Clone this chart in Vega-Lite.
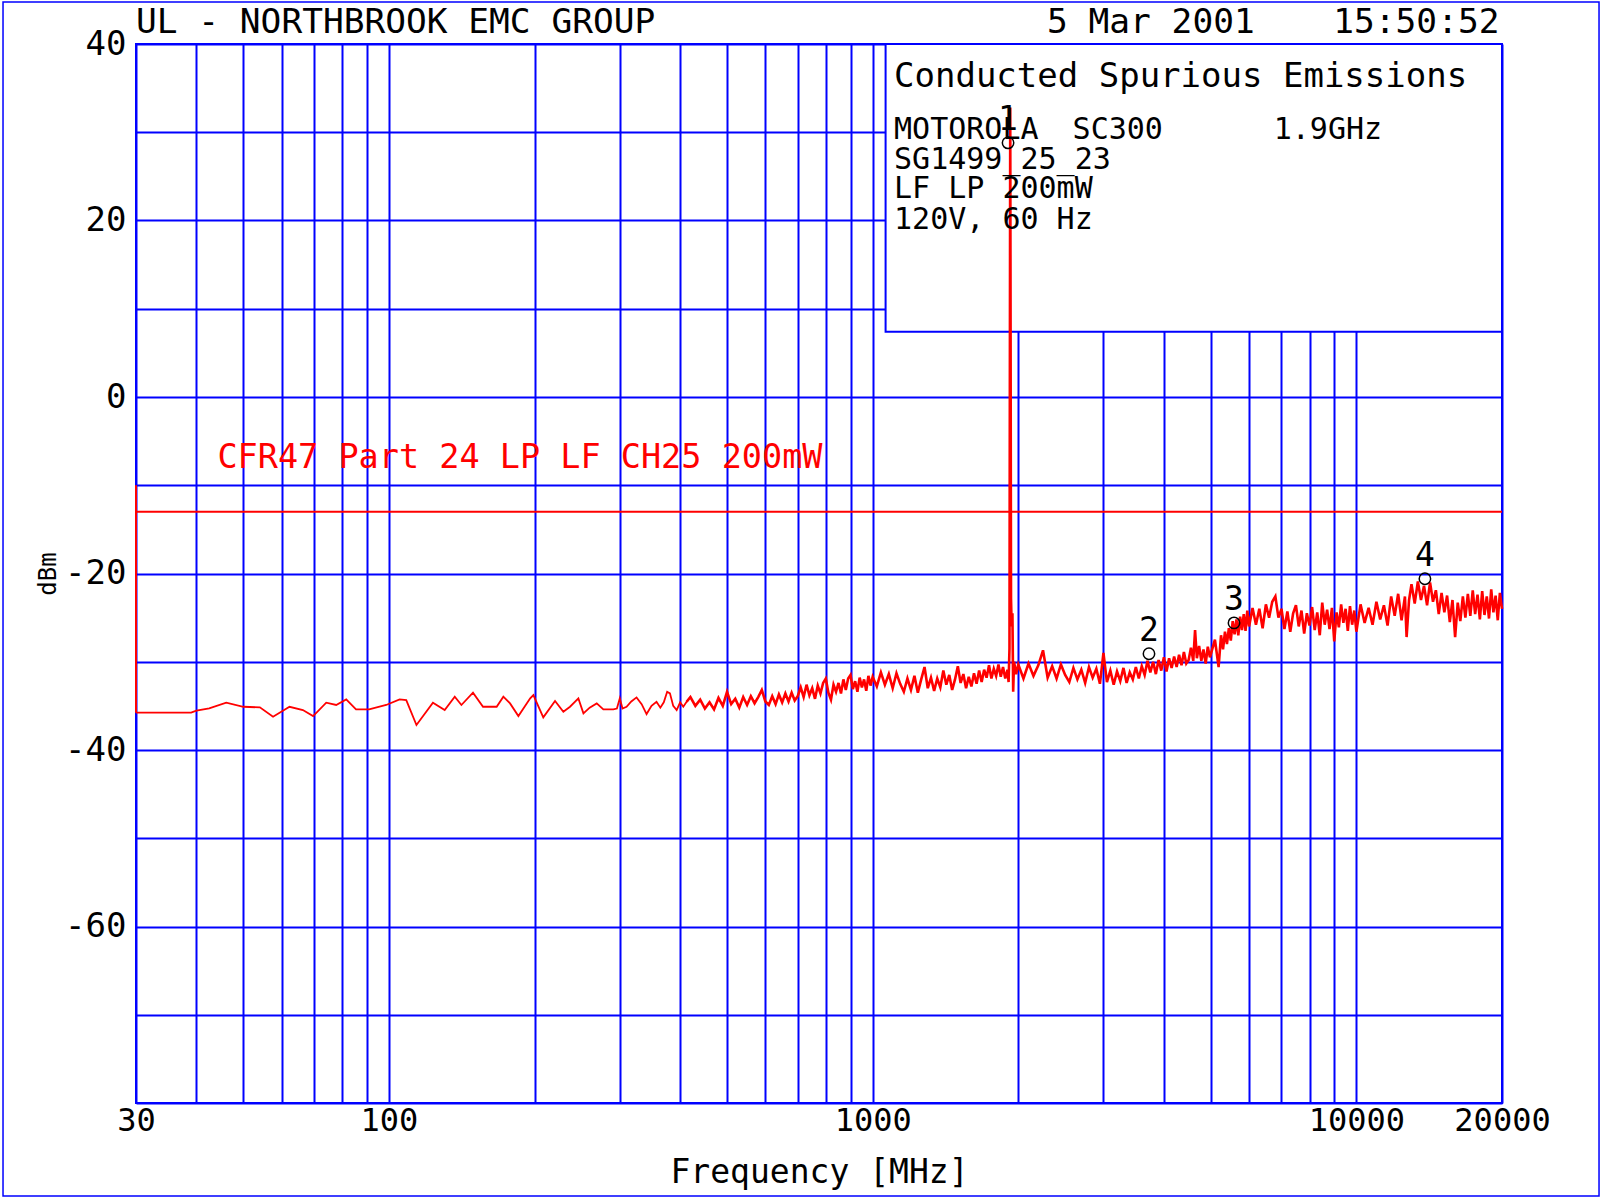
{
"$schema": "https://vega.github.io/schema/vega-lite/v6.json",
"width": 1366, "height": 1059,
"autosize": {"type": "none"},
"padding": {"left": 136, "top": 44, "right": 100, "bottom": 95},
"background": "white",
"config": {"view": {"stroke": "#0000ff", "strokeWidth": 2}, "font": "DejaVu Sans Mono"},
"data": {"values": [{}]},
"datasets": {
"trace": [
{"f":30,"d":-35.77},{"f":39,"d":-35.77},{"f":40,"d":-35.55},{"f":42.5,"d":-35.28},{"f":46.1,"d":-34.64},{"f":50,"d":-35.1},{"f":54.1,"d":-35.17},{"f":57.6,"d":-36.23},{"f":62.3,"d":-35.1},{"f":66.4,"d":-35.47},{"f":69.7,"d":-36.15},{"f":74.2,"d":-34.64},{"f":77.8,"d":-34.9},{"f":81.6,"d":-34.26},{"f":85.5,"d":-35.4},{"f":91,"d":-35.4},{"f":98.7,"d":-34.9},{"f":105.2,"d":-34.26},{"f":108.6,"d":-34.34},{"f":114,"d":-37.17},{"f":123.3,"d":-34.64},{"f":130.4,"d":-35.47},{"f":136.8,"d":-33.96},{"f":141.2,"d":-34.9},{"f":149.2,"d":-33.51},{"f":156.5,"d":-35.1},{"f":167,"d":-35.1},{"f":172.4,"d":-33.96},{"f":178,"d":-34.72},{"f":185.2,"d":-36.15},{"f":195.9,"d":-34.15},
{"f":198.9,"d":-33.77},{"f":208.5,"d":-36.3},{"f":220.5,"d":-34.45},{"f":229.4,"d":-35.66},{"f":236.8,"d":-35.1},{"f":246.4,"d":-34.15},{"f":252.4,"d":-35.85},{"f":260,"d":-35.2},{"f":268.9,"d":-34.72},{"f":277.5,"d":-35.4},{"f":291,"d":-35.4},{"f":296,"d":-35.3},{"f":300.1,"d":-34.15},{"f":304,"d":-35.3},{"f":309.9,"d":-35.1},{"f":317,"d":-34.5},{"f":325,"d":-34.04},{"f":333,"d":-34.8},{"f":340.9,"d":-35.93},{"f":349,"d":-35.0},{"f":357.4,"d":-34.53},{"f":364,"d":-35.2},{"f":370,"d":-34.6},{"f":376,"d":-33.4},{"f":381,"d":-33.58},{"f":387,"d":-35.0},{"f":393.4,"d":-35.47},{"f":400,"d":-34.6},{"f":406,"d":-35.1},{"f":412.5,"d":-34.53},
{"f":420,"d":-34.0},{"f":430,"d":-35.0},{"f":440,"d":-34.3},{"f":450,"d":-35.3},{"f":460,"d":-34.6},{"f":470,"d":-35.4},{"f":480,"d":-34.1},{"f":490,"d":-35.0},{"f":500,"d":-33.4},{"f":510,"d":-34.8},{"f":520,"d":-34.2},{"f":530,"d":-35.2},{"f":540,"d":-34.0},{"f":550,"d":-34.9},{"f":560,"d":-33.9},{"f":570,"d":-34.7},{"f":580,"d":-34.0},{"f":590,"d":-33.2},{"f":600,"d":-34.5},{"f":610,"d":-34.9},{"f":620,"d":-33.9},{"f":630,"d":-34.8},{"f":640,"d":-33.7},{"f":650,"d":-34.6},{"f":660,"d":-33.6},{"f":670,"d":-34.5},{"f":680,"d":-33.5},{"f":690,"d":-34.4},{"f":700,"d":-33.9},
{"f":710,"d":-32.9},{"f":720,"d":-34.0},{"f":730,"d":-32.6},{"f":740,"d":-33.8},{"f":750,"d":-33.0},{"f":760,"d":-34.2},{"f":770,"d":-32.7},{"f":780,"d":-33.6},{"f":790,"d":-32.4},{"f":800,"d":-31.9},{"f":810,"d":-33.5},{"f":820,"d":-34.3},{"f":830,"d":-32.6},{"f":840,"d":-33.4},{"f":850,"d":-32.4},{"f":860,"d":-33.6},{"f":870,"d":-32.0},{"f":880,"d":-33.2},{"f":890,"d":-31.9},{"f":900,"d":-31.5},{"f":910,"d":-33.1},{"f":920,"d":-32.2},{"f":930,"d":-33.4},{"f":940,"d":-31.8},{"f":950,"d":-32.9},{"f":960,"d":-32.0},{"f":970,"d":-33.3},{"f":980,"d":-31.6},{"f":990,"d":-32.7},{"f":1000,"d":-31.7},
{"f":1020,"d":-32.8},{"f":1040,"d":-31.2},{"f":1060,"d":-32.6},{"f":1080,"d":-31.4},{"f":1100,"d":-33.0},{"f":1120,"d":-31.3},{"f":1140,"d":-32.5},{"f":1160,"d":-33.4},{"f":1180,"d":-31.9},{"f":1200,"d":-33.2},{"f":1220,"d":-31.6},{"f":1240,"d":-33.5},{"f":1260,"d":-32.0},{"f":1280,"d":-30.6},{"f":1300,"d":-33.0},{"f":1320,"d":-31.8},{"f":1340,"d":-33.3},{"f":1360,"d":-31.9},{"f":1380,"d":-32.9},{"f":1400,"d":-31.0},{"f":1420,"d":-32.6},{"f":1440,"d":-31.5},{"f":1460,"d":-33.2},{"f":1480,"d":-32.0},{"f":1500,"d":-30.5},{"f":1520,"d":-32.4},{"f":1540,"d":-31.4},{"f":1560,"d":-33.0},{"f":1580,"d":-31.7},{"f":1600,"d":-32.8},{"f":1620,"d":-31.3},{"f":1640,"d":-32.5},{"f":1660,"d":-31.0},{"f":1680,"d":-32.3},{"f":1700,"d":-30.9},{"f":1720,"d":-31.8},{"f":1740,"d":-30.4},{"f":1760,"d":-31.9},{"f":1780,"d":-30.8},{"f":1800,"d":-31.6},{"f":1820,"d":-30.3},{"f":1840,"d":-31.7},{"f":1860,"d":-30.6},{"f":1880,"d":-31.9},{"f":1900,"d":-30.9},{"f":1910,"d":-32.3},{"f":1918,"d":-28.5},{"f":1925,"d":32.8},{"f":1932,"d":-22.8},{"f":1938,"d":-26.0},{"f":1945,"d":-24.5},{"f":1952,"d":-33.4},{"f":1960,"d":-30.0},{"f":1980,"d":-31.4},{"f":2000,"d":-30.3},
{"f":2050,"d":-31.9},{"f":2100,"d":-30.2},{"f":2150,"d":-31.6},{"f":2200,"d":-30.4},{"f":2250,"d":-28.7},{"f":2300,"d":-31.8},{"f":2350,"d":-30.5},{"f":2400,"d":-31.9},{"f":2450,"d":-30.3},{"f":2500,"d":-31.5},{"f":2550,"d":-32.3},{"f":2600,"d":-30.7},{"f":2650,"d":-32.0},{"f":2700,"d":-30.9},{"f":2750,"d":-32.4},{"f":2800,"d":-30.6},{"f":2850,"d":-31.8},{"f":2900,"d":-30.8},{"f":2950,"d":-32.5},{"f":3000,"d":-29.0},{"f":3050,"d":-32.3},{"f":3100,"d":-31.0},{"f":3150,"d":-32.6},{"f":3200,"d":-31.1},{"f":3250,"d":-32.2},{"f":3300,"d":-30.7},{"f":3350,"d":-32.4},{"f":3400,"d":-31.2},{"f":3450,"d":-32.0},{"f":3500,"d":-30.6},{"f":3550,"d":-31.9},{"f":3600,"d":-30.5},{"f":3650,"d":-31.5},{"f":3700,"d":-29.9},{"f":3750,"d":-31.2},{"f":3800,"d":-30.0},{"f":3850,"d":-31.4},{"f":3900,"d":-29.8},{"f":3950,"d":-31.0},{"f":4000,"d":-29.5},{"f":4050,"d":-31.1},{"f":4100,"d":-29.6},{"f":4150,"d":-30.7},{"f":4200,"d":-29.4},{"f":4250,"d":-30.6},{"f":4300,"d":-29.2},{"f":4350,"d":-30.4},{"f":4400,"d":-28.9},{"f":4450,"d":-30.2},{"f":4500,"d":-29.8},{"f":4550,"d":-28.4},{"f":4600,"d":-29.9},{"f":4640,"d":-26.4},{"f":4680,"d":-29.6},{"f":4730,"d":-28.2},{"f":4780,"d":-29.9},{"f":4830,"d":-28.6},{"f":4880,"d":-30.2},{"f":4930,"d":-28.3},{"f":4980,"d":-29.5},
{"f":5100,"d":-27.5},{"f":5190,"d":-30.6},{"f":5250,"d":-27.0},{"f":5300,"d":-28.6},{"f":5350,"d":-26.6},{"f":5400,"d":-28.0},{"f":5450,"d":-26.2},{"f":5500,"d":-27.6},{"f":5550,"d":-25.4},{"f":5600,"d":-26.9},{"f":5650,"d":-25.2},{"f":5700,"d":-27.0},{"f":5750,"d":-24.9},{"f":5800,"d":-26.4},{"f":5850,"d":-24.6},{"f":5900,"d":-26.5},{"f":5950,"d":-24.2},{"f":6000,"d":-26.0},{"f":6100,"d":-23.9},{"f":6200,"d":-25.8},{"f":6300,"d":-24.0},{"f":6400,"d":-26.2},{"f":6500,"d":-23.5},{"f":6600,"d":-25.0},{"f":6700,"d":-23.2},{"f":6800,"d":-22.6},{"f":6900,"d":-25.0},{"f":7000,"d":-24.0},{"f":7100,"d":-26.3},{"f":7200,"d":-24.3},{"f":7300,"d":-26.6},{"f":7400,"d":-24.5},{"f":7500,"d":-23.6},{"f":7600,"d":-26.0},{"f":7700,"d":-24.2},{"f":7800,"d":-26.8},{"f":7900,"d":-24.5},{"f":8000,"d":-25.9},{"f":8100,"d":-23.8},{"f":8200,"d":-26.4},{"f":8300,"d":-24.4},{"f":8400,"d":-27.0},{"f":8500,"d":-23.3},{"f":8600,"d":-25.8},{"f":8700,"d":-24.1},{"f":8800,"d":-26.3},{"f":8900,"d":-23.9},{"f":9000,"d":-27.7},{"f":9100,"d":-24.4},{"f":9200,"d":-26.1},{"f":9300,"d":-23.5},{"f":9400,"d":-25.6},{"f":9500,"d":-24.0},{"f":9600,"d":-26.5},{"f":9700,"d":-23.7},{"f":9800,"d":-25.8},{"f":9900,"d":-24.2},{"f":10000,"d":-26.6},
{"f":10200,"d":-23.5},{"f":10400,"d":-25.6},{"f":10600,"d":-23.9},{"f":10800,"d":-25.8},{"f":11000,"d":-23.2},{"f":11200,"d":-25.2},{"f":11400,"d":-23.6},{"f":11600,"d":-25.9},{"f":11800,"d":-22.6},{"f":12000,"d":-24.8},{"f":12200,"d":-22.3},{"f":12400,"d":-25.3},{"f":12600,"d":-22.6},{"f":12700,"d":-27.2},{"f":12850,"d":-23.0},{"f":13000,"d":-21.2},{"f":13200,"d":-23.4},{"f":13400,"d":-20.9},{"f":13600,"d":-23.0},{"f":13800,"d":-21.4},{"f":14000,"d":-23.6},{"f":14200,"d":-21.0},{"f":14400,"d":-23.2},{"f":14600,"d":-21.9},{"f":14800,"d":-24.6},{"f":15000,"d":-22.2},{"f":15200,"d":-24.4},{"f":15400,"d":-22.5},{"f":15600,"d":-25.5},{"f":15800,"d":-23.0},{"f":16000,"d":-27.2},{"f":16200,"d":-23.3},{"f":16400,"d":-25.4},{"f":16600,"d":-22.6},{"f":16800,"d":-25.0},{"f":17000,"d":-22.3},{"f":17200,"d":-24.8},{"f":17400,"d":-21.9},{"f":17600,"d":-24.6},{"f":17800,"d":-22.4},{"f":18000,"d":-25.2},{"f":18200,"d":-22.0},{"f":18400,"d":-24.7},{"f":18600,"d":-22.6},{"f":18800,"d":-25.1},{"f":19000,"d":-21.8},{"f":19200,"d":-24.4},{"f":19400,"d":-22.5},{"f":19600,"d":-25.3},{"f":19800,"d":-22.2},{"f":20000,"d":-24.0}
],
"markers": [
{"f":1905,"d":28.8,"n":"1"},{"f":3726,"d":-29.1,"n":"2"},{"f":5585,"d":-25.6,"n":"3"},{"f":13857,"d":-20.6,"n":"4"}
]
},
"encoding": {
  "x": {"type": "quantitative", "scale": {"type": "log", "domain": [30, 20000], "nice": false},
   "axis": {"values": [30,40,50,60,70,80,90,100,200,300,400,500,600,700,800,900,1000,2000,3000,4000,5000,6000,7000,8000,9000,10000,20000],
    "grid": true, "gridColor": "#0000ff", "gridWidth": 2, "gridOpacity": 1, "domain": false, "ticks": false,
    "labelExpr": "(datum.value == 30 || datum.value == 100 || datum.value == 1000 || datum.value == 10000 || datum.value == 20000) ? '' + datum.value : ''",
    "labelOverlap": false, "labelFlush": false, "labelBound": false,
    "labelFont": "DejaVu Sans Mono", "labelFontSize": 32, "labelColor": "#000000", "labelPadding": 2,
    "title": "Frequency [MHz]", "titleFont": "DejaVu Sans Mono", "titleFontSize": 33, "titleFontWeight": "normal", "titleColor": "#000000", "titlePadding": 20}},
  "y": {"type": "quantitative", "scale": {"domain": [-80, 40], "nice": false, "zero": false},
   "axis": {"values": [40,30,20,10,0,-10,-20,-30,-40,-50,-60,-70,-80],
    "grid": true, "gridColor": "#0000ff", "gridWidth": 2, "gridOpacity": 1, "domain": false, "ticks": false,
    "labelExpr": "(datum.value % 20 == 0 && datum.value > -80) ? '' + datum.value : ''",
    "labelOverlap": false, "labelFlush": false, "labelBound": false,
    "labelFont": "DejaVu Sans Mono", "labelFontSize": 34, "labelColor": "#000000", "labelPadding": 10,
    "title": "dBm", "titleFont": "DejaVu Sans Mono", "titleFontSize": 24, "titleFontWeight": "normal", "titleColor": "#000000", "titlePadding": 4}}
},
"layer": [
{"mark": {"type": "rect", "filled": false, "stroke": "#0000ff", "strokeWidth": 1.5},
 "encoding": {"x": {"datum": 15.93}, "x2": {"datum": 31740}, "y": {"datum": 44.76}, "y2": {"datum": -90.54}}},
{"mark": {"type": "rect", "fill": "#ffffff", "stroke": "#0000ff", "strokeWidth": 2},
 "encoding": {"x": {"datum": 1063.5}, "x2": {"datum": 20000}, "y": {"datum": 7.4}, "y2": {"datum": 40}}},
{"data": {"name": "trace"},
 "transform": [{"filter": "datum.f <= 420"}],
 "mark": {"type": "line", "color": "#ff0000", "strokeWidth": 1.8},
 "encoding": {"x": {"field": "f"}, "y": {"field": "d"}}},
{"data": {"name": "trace"},
 "transform": [{"filter": "datum.f >= 412.5"}],
 "mark": {"type": "line", "color": "#ff0000", "strokeWidth": 2.6},
 "encoding": {"x": {"field": "f"}, "y": {"field": "d"}}},
{"mark": {"type": "rule", "color": "#ff0000", "strokeWidth": 2},
 "encoding": {"x": {"datum": 30}, "x2": {"datum": 20000}, "y": {"datum": -13}}},
{"mark": {"type": "rule", "color": "#ff0000", "strokeWidth": 2},
 "encoding": {"x": {"datum": 30}, "y": {"datum": -10}, "y2": {"datum": -35.77}}},
{"data": {"name": "markers"},
 "mark": {"type": "point", "shape": "circle", "filled": false, "stroke": "#000000", "strokeWidth": 1.5, "size": 130, "opacity": 1},
 "encoding": {"x": {"field": "f"}, "y": {"field": "d"}}},
{"data": {"name": "markers"},
 "mark": {"type": "text", "dy": -23, "fontSize": 33, "font": "DejaVu Sans Mono", "color": "#000000", "align": "center", "baseline": "middle"},
 "encoding": {"x": {"field": "f"}, "y": {"field": "d"}, "text": {"field": "n"}}},
{"mark": {"type": "text", "text": "UL - NORTHBROOK EMC GROUP", "fontSize": 34.5, "font": "DejaVu Sans Mono", "color": "#000000", "align": "left", "baseline": "alphabetic"},
 "encoding": {"x": {"datum": 30}, "y": {"datum": 41.19}}},
{"mark": {"type": "text", "text": "5 Mar 2001", "fontSize": 34.5, "font": "DejaVu Sans Mono", "color": "#000000", "align": "left", "baseline": "alphabetic"},
 "encoding": {"x": {"datum": 2293}, "y": {"datum": 41.19}}},
{"mark": {"type": "text", "text": "15:50:52", "fontSize": 34.5, "font": "DejaVu Sans Mono", "color": "#000000", "align": "right", "baseline": "alphabetic"},
 "encoding": {"x": {"datum": 19760}, "y": {"datum": 41.19}}},
{"mark": {"type": "text", "text": "Conducted Spurious Emissions", "fontSize": 34, "font": "DejaVu Sans Mono", "color": "#000000", "align": "left", "baseline": "alphabetic"},
 "encoding": {"x": {"datum": 1107}, "y": {"datum": 35.13}}},
{"mark": {"type": "text", "text": "MOTOROLA", "fontSize": 30, "font": "DejaVu Sans Mono", "color": "#000000", "align": "left", "baseline": "alphabetic"},
 "encoding": {"x": {"datum": 1107}, "y": {"datum": 29.24}}},
{"mark": {"type": "text", "text": "SC300", "fontSize": 30, "font": "DejaVu Sans Mono", "color": "#000000", "align": "left", "baseline": "alphabetic"},
 "encoding": {"x": {"datum": 2590}, "y": {"datum": 29.24}}},
{"mark": {"type": "text", "text": "1.9GHz", "fontSize": 30, "font": "DejaVu Sans Mono", "color": "#000000", "align": "left", "baseline": "alphabetic"},
 "encoding": {"x": {"datum": 6747}, "y": {"datum": 29.24}}},
{"mark": {"type": "text", "text": "SG1499_25_23", "fontSize": 30, "font": "DejaVu Sans Mono", "color": "#000000", "align": "left", "baseline": "alphabetic"},
 "encoding": {"x": {"datum": 1107}, "y": {"datum": 25.89}}},
{"mark": {"type": "text", "text": "LF LP 200mW", "fontSize": 30, "font": "DejaVu Sans Mono", "color": "#000000", "align": "left", "baseline": "alphabetic"},
 "encoding": {"x": {"datum": 1107}, "y": {"datum": 22.55}}},
{"mark": {"type": "text", "text": "120V, 60 Hz", "fontSize": 30, "font": "DejaVu Sans Mono", "color": "#000000", "align": "left", "baseline": "alphabetic"},
 "encoding": {"x": {"datum": 1107}, "y": {"datum": 19.04}}},
{"mark": {"type": "text", "text": "CFR47 Part 24 LP LF CH25 200mW", "fontSize": 33.5, "font": "DejaVu Sans Mono", "color": "#ff0000", "align": "left", "baseline": "alphabetic"},
 "encoding": {"x": {"datum": 44.2}, "y": {"datum": -8.05}}}
]
}
